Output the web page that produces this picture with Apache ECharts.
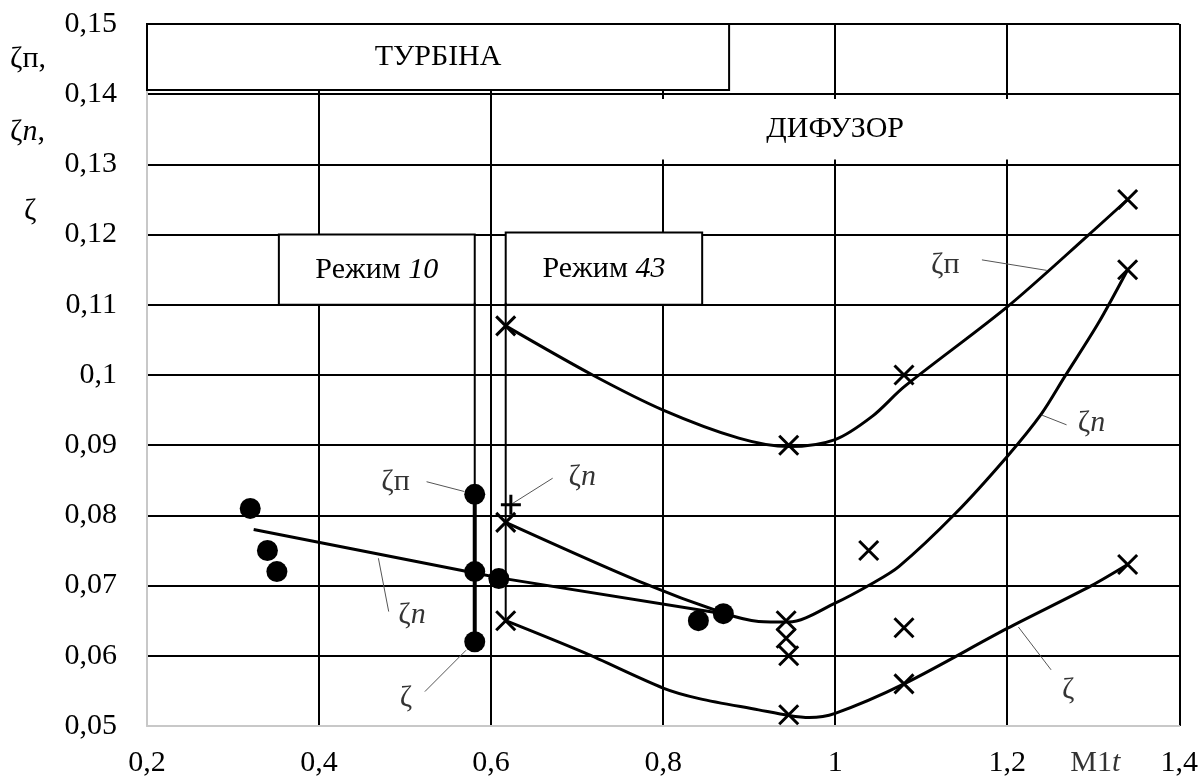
<!DOCTYPE html>
<html>
<head>
<meta charset="utf-8">
<script src="https://cdn.jsdelivr.net/npm/echarts@6/dist/echarts.min.js"></script>
<style>
  html, body { margin: 0; padding: 0; background: #fff; }
  #chart { width: 1201px; height: 780px; }
</style>
</head>
<body>
<div id="chart"></div>
<script>
// tick labels (decimal comma)
const xTickLabels = ['0,2', '0,4', '0,6', '0,8', '1', '1,2', '1,4'];
const yTickLabels = ['0,05', '0,06', '0,07', '0,08', '0,09', '0,1', '0,11', '0,12', '0,13', '0,14', '0,15'];

// measured points
const circlePoints = [[0.32, 0.081], [0.34, 0.075], [0.351, 0.072], [0.581, 0.083], [0.581, 0.072],
  [0.581, 0.062], [0.609, 0.071], [0.841, 0.065], [0.87, 0.066]];
const crossPoints = [[0.617, 0.107], [0.617, 0.079], [0.617, 0.065], [0.946, 0.09], [1.08, 0.1],
  [1.34, 0.125], [1.34, 0.115], [0.943, 0.065], [0.943, 0.0625], [0.946, 0.06], [1.039, 0.075],
  [1.08, 0.064], [1.08, 0.056], [0.946, 0.0516], [1.34, 0.073]];
const plusPoints = [[0.623, 0.0815]];

// curves
const curveZetaP = [[0.617, 0.107], [0.718, 0.1], [0.8, 0.095], [0.888, 0.091], [0.946, 0.0898],
  [1.0, 0.0908], [1.043, 0.0941], [1.08, 0.0983], [1.2, 0.1097], [1.295, 0.12], [1.34, 0.125]];
const curveZetaN = [[0.617, 0.079], [0.772, 0.0706], [0.87, 0.0661], [0.911, 0.0649], [0.946, 0.0648],
  [1.0, 0.0675], [1.043, 0.0703], [1.074, 0.0727], [1.14, 0.0803], [1.2, 0.0884], [1.24, 0.0945],
  [1.267, 0.0998], [1.306, 0.1074], [1.34, 0.115]];
const curveZeta = [[0.617, 0.065], [0.709, 0.0604], [0.8, 0.0554], [0.842, 0.0539], [0.911, 0.0523],
  [0.946, 0.0515], [0.97, 0.0512], [1.0, 0.0518], [1.08, 0.056], [1.2, 0.0639], [1.298, 0.07], [1.34, 0.073]];
const turbineZetaN = [[0.324, 0.078], [0.581, 0.0718], [0.61, 0.0711], [0.87, 0.066]];

// regime marker lines
const regime10Line = [[0.581, 0.1103], [0.581, 0.062]];
const regime10Span = [[0.581, 0.083], [0.581, 0.062]];
const regime43Line = [[0.617, 0.1103], [0.617, 0.065]];

// labelled regions [x0, y0, x1, y1]
const boxTurbine = [0.2, 0.1406, 0.8767, 0.15];
const boxDiffuser = [0.6015, 0.1307, 1.3985, 0.1393];
const boxRegime10 = [0.3533, 0.11, 0.581, 0.12];
const boxRegime43 = [0.617, 0.11, 0.8454, 0.1203];

// annotations: text, anchor, leader start, leader end
const noteTexts = ['ζп', 'ζ{i|n}', 'ζ{i|n}', 'ζ', 'ζп', 'ζ{i|n}', 'ζ'];
const noteAt = [[0.489, 0.0848], [0.706, 0.0855], [0.508, 0.0658], [0.501, 0.0539], [1.128, 0.1157], [1.298, 0.0931], [1.271, 0.0551]];
const noteFrom = [[0.525, 0.0848], [0.6716, 0.0853], [0.481, 0.0663], [0.523, 0.0549], [1.1706, 0.1164], [1.269, 0.0929], [1.251, 0.058]];
const noteTo = [[0.569, 0.0834], [0.625, 0.0817], [0.469, 0.0739], [0.571, 0.0608], [1.246, 0.1149], [1.24, 0.0943], [1.213, 0.0641]];

const FONT = 'Liberation Serif, Times New Roman, serif';
const rich = { i: { fontStyle: 'italic', fontFamily: FONT, fontSize: 30, color: '#000' } };

const area = (b, name) => [
  { coord: [b[0], b[1]], name: name },
  { coord: [b[2], b[3]] }
];

const chart = echarts.init(document.getElementById('chart'));

const lineSeries = (data, width, smooth) => ({
  type: 'line',
  data: data,
  symbol: 'none',
  smooth: smooth,
  lineStyle: { color: '#000', width: width },
  silent: true,
  z: 4
});

chart.setOption({
  animation: false,
  textStyle: { fontFamily: FONT },
  grid: { left: 147, right: 20, top: 24, bottom: 54 },
  xAxis: {
    type: 'value',
    min: 0.2,
    max: 1.4,
    interval: 0.2,
    axisLine: { lineStyle: { color: '#c8c8c8', width: 2 } },
    axisTick: { show: false },
    axisLabel: {
      color: '#000', fontSize: 30, fontFamily: FONT, margin: 22,
      formatter: (v, i) => xTickLabels[i]
    },
    splitLine: { show: true, showMinLine: false, lineStyle: { color: '#000', width: 2 } }
  },
  yAxis: {
    type: 'value',
    min: 0.05,
    max: 0.15,
    interval: 0.01,
    axisLine: { show: true, lineStyle: { color: '#c8c8c8', width: 2 } },
    axisTick: { show: false },
    axisLabel: {
      color: '#000', fontSize: 30, fontFamily: FONT, margin: 30,
      formatter: (v, i) => yTickLabels[i]
    },
    splitLine: { show: true, showMinLine: false, lineStyle: { color: '#000', width: 2 } }
  },
  graphic: [
    { type: 'text', left: 10, top: 44, style: { text: 'ζп,', fontSize: 30, fontFamily: FONT, fill: '#000' } },
    { type: 'text', left: 10, top: 117, style: { text: 'ζ{i|n},', rich: rich, fontSize: 30, fontFamily: FONT, fill: '#000' } },
    { type: 'text', left: 24, top: 196, style: { text: 'ζ', fontSize: 30, fontFamily: FONT, fill: '#000' } }
  ],
  series: [
    {
      // region boxes
      type: 'scatter',
      data: [],
      markArea: {
        silent: true,
        label: { show: true, position: 'inside', color: '#000', fontSize: 30, fontFamily: FONT, rich: rich },
        data: [
          area(boxTurbine, 'ТУРБІНА'),
          area(boxRegime10, 'Режим {i|10}'),
          area(boxRegime43, 'Режим {i|43}')
        ],
        itemStyle: { color: '#fff', borderColor: '#000', borderWidth: 2, opacity: 1 }
      },
      z: 3
    },
    {
      type: 'scatter',
      data: [],
      markArea: {
        silent: true,
        label: { show: true, position: 'inside', color: '#000', fontSize: 30, fontFamily: FONT },
        data: [area(boxDiffuser, 'ДИФУЗОР')],
        itemStyle: { color: '#fff', borderWidth: 0, opacity: 1 }
      },
      z: 3
    },
    lineSeries(curveZetaP, 3, 0.3),
    lineSeries(curveZetaN, 3, 0.3),
    lineSeries(curveZeta, 3, 0.3),
    lineSeries(turbineZetaN, 3, false),
    lineSeries(regime10Line, 2, false),
    lineSeries(regime10Span, 4, false),
    lineSeries(regime43Line, 2, false),
    {
      type: 'scatter',
      data: circlePoints,
      symbol: 'circle',
      symbolSize: 21,
      itemStyle: { color: '#000', opacity: 1 },
      z: 6
    },
    {
      type: 'scatter',
      data: crossPoints,
      symbol: 'path://M0,0L10,10M10,0L0,10',
      symbolSize: 19,
      itemStyle: { color: 'none', borderColor: '#000', borderWidth: 3, opacity: 1 },
      z: 6
    },
    {
      type: 'scatter',
      data: plusPoints,
      symbol: 'path://M5,0L5,10M0,5L10,5',
      symbolSize: 20,
      itemStyle: { color: 'none', borderColor: '#000', borderWidth: 3, opacity: 1 },
      z: 6
    },
    {
      // annotation texts and leader lines
      type: 'scatter',
      symbolSize: 0,
      itemStyle: { color: 'transparent' },
      data: noteAt.map((p, i) => ({
        value: p,
        label: {
          show: true, position: 'inside', formatter: noteTexts[i],
          color: '#000', fontSize: 30, fontFamily: FONT, rich: rich
        }
      })),
      markLine: {
        silent: true,
        symbol: ['none', 'none'],
        label: { show: false },
        lineStyle: { color: '#555', width: 1, type: 'solid' },
        data: noteFrom.map((p, i) => [{ coord: p }, { coord: noteTo[i] }])
      },
      z: 7
    },
    {
      // x axis title
      type: 'scatter',
      symbolSize: 0,
      itemStyle: { color: 'transparent' },
      data: [{
        value: [1.3025, 0.05],
        label: {
          show: true, position: 'bottom', distance: 22, formatter: 'M1{i|t}',
          color: '#000', fontSize: 30, fontFamily: FONT, rich: rich
        }
      }],
      z: 7
    }
  ]
});

window.addEventListener('resize', () => {
  chart.resize();
});
</script>
</body>
</html>
